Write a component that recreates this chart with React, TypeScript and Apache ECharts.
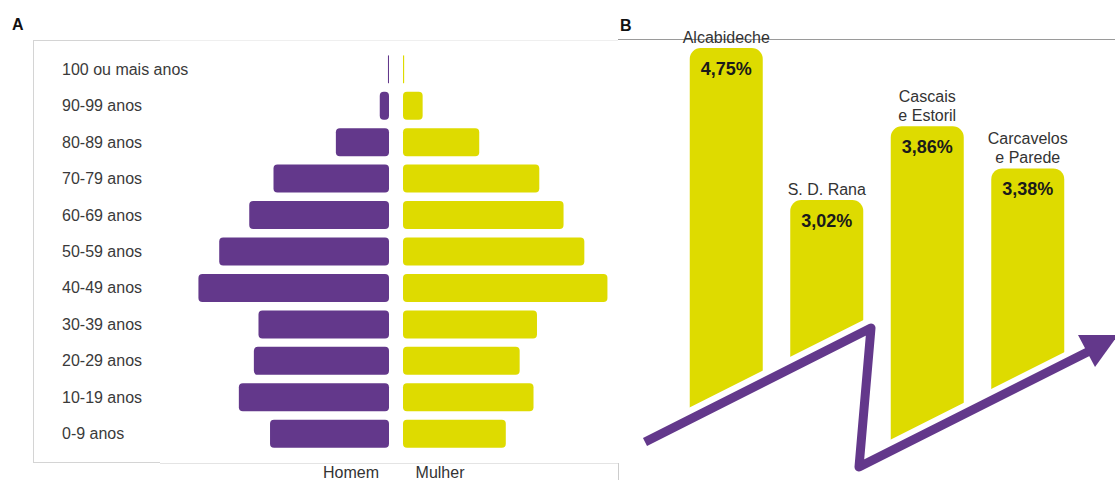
import React, { useEffect, useRef } from "react";
import * as echarts from "echarts";

// Panel A: age pyramid (thousands of residents)
const ageGroups = [
  "100 ou mais anos",
  "90-99 anos",
  "80-89 anos",
  "70-79 anos",
  "60-69 anos",
  "50-59 anos",
  "40-49 anos",
  "30-39 anos",
  "20-29 anos",
  "10-19 anos",
  "0-9 anos",
];
const men = [0.09, 0.8, 4.6, 10.0, 12.1, 14.7, 16.5, 11.3, 11.7, 13.0, 10.3];
const women = [0.1, 1.7, 6.6, 11.8, 13.9, 15.7, 17.7, 11.6, 10.1, 11.3, 8.9];
const sexLabels = ["Homem", "Mulher"];

// Panel B: parishes
const parishes = ["Alcabideche", "S. D. Rana", "Cascais\ne Estoril", "Carcavelos\ne Parede"];
const parishValues = [4.75, 3.02, 3.86, 3.38];

const PURPLE = "#63388B";
const YELLOW = "#DEDB00";
const FONT = "Liberation Sans, Arial, sans-serif";

export default function App() {
  const ref = useRef<HTMLDivElement>(null);

  useEffect(() => {
    if (!ref.current) return;
    const chart = echarts.init(ref.current, undefined, { renderer: "svg" });

    const option: any = {
      animation: false,
      backgroundColor: "#ffffff",
      grid: [
        { left: 158, width: 231, top: 51, height: 401 },
        { left: 403, width: 231, top: 51, height: 401 },
        { left: 676, width: 402, top: 26, height: 439.5 },
      ],
      xAxis: [
        { gridIndex: 0, type: "value", min: 0, max: 20, inverse: true, show: false },
        { gridIndex: 1, type: "value", min: 0, max: 20, show: false },
        { gridIndex: 2, type: "category", data: parishes, show: false },
      ],
      yAxis: [
        {
          gridIndex: 0,
          type: "category",
          data: ageGroups,
          inverse: true,
          axisLine: { show: false },
          axisTick: { show: false },
          splitLine: { show: false },
          axisLabel: {
            align: "left",
            margin: 96,
            fontSize: 16,
            color: "#3a3a3a",
            fontFamily: FONT,
          },
        },
        { gridIndex: 1, type: "category", data: ageGroups, inverse: true, show: false },
        { gridIndex: 2, type: "value", min: 0, max: 5, show: false },
      ],
      series: [
        {
          name: sexLabels[0],
          type: "bar",
          xAxisIndex: 0,
          yAxisIndex: 0,
          data: men,
          barWidth: 28,
          itemStyle: { color: PURPLE, borderRadius: 4 },
        },
        {
          name: sexLabels[1],
          type: "bar",
          xAxisIndex: 1,
          yAxisIndex: 1,
          data: women,
          barWidth: 28,
          itemStyle: { color: YELLOW, borderRadius: 4 },
        },
        {
          type: "bar",
          xAxisIndex: 2,
          yAxisIndex: 2,
          data: parishValues,
          barWidth: 73,
          barGap: "-100%",
          itemStyle: { color: YELLOW, borderRadius: [11, 11, 0, 0] },
          label: {
            show: true,
            position: "insideTop",
            distance: 12,
            fontSize: 18,
            fontWeight: "bold",
            color: "#1a1a1a",
            fontFamily: FONT,
            formatter: (p: any) => p.value.toFixed(2).replace(".", ",") + "%",
          },
        },
        {
          type: "bar",
          xAxisIndex: 2,
          yAxisIndex: 2,
          data: parishValues,
          barWidth: 73,
          barGap: "-100%",
          itemStyle: { color: "transparent" },
          label: {
            show: true,
            position: "top",
            distance: 1,
            fontSize: 16,
            lineHeight: 19,
            color: "#333333",
            fontFamily: FONT,
            formatter: (p: any) => p.name,
          },
        },
      ],
      graphic: [
        // frames
        { type: "line", shape: { x1: 33, y1: 40.5, x2: 160, y2: 40.5 }, style: { stroke: "#d4d4d4", lineWidth: 1 }, z: 50 },
        { type: "line", shape: { x1: 160, y1: 40.5, x2: 618, y2: 40.5 }, style: { stroke: "#efefef", lineWidth: 1 }, z: 50 },
        { type: "line", shape: { x1: 33.5, y1: 40, x2: 33.5, y2: 463 }, style: { stroke: "#d4d4d4", lineWidth: 1 }, z: 50 },
        { type: "line", shape: { x1: 33, y1: 462.5, x2: 160, y2: 462.5 }, style: { stroke: "#d4d4d4", lineWidth: 1 }, z: 50 },
        { type: "line", shape: { x1: 160, y1: 463.5, x2: 618, y2: 463.5 }, style: { stroke: "#e4e4e4", lineWidth: 1 }, z: 50 },
        { type: "line", shape: { x1: 618.5, y1: 463, x2: 618.5, y2: 480 }, style: { stroke: "#cccccc", lineWidth: 1 }, z: 50 },
        { type: "line", shape: { x1: 618, y1: 39.5, x2: 1115, y2: 39.5 }, style: { stroke: "#9a9a9a", lineWidth: 1 }, z: 1 },
        // panel letters
        { type: "text", x: 12, y: 16, style: { text: "A", font: "bold 16px " + FONT, fill: "#111" }, z: 50 },
        { type: "text", x: 620, y: 17, style: { text: "B", font: "bold 16px " + FONT, fill: "#111" }, z: 50 },
        // sex labels
        {
          type: "text", x: 351, y: 472,
          style: { text: sexLabels[0], font: "16px " + FONT, fill: "#333", align: "center", verticalAlign: "middle" }, z: 50,
        },
        {
          type: "text", x: 440, y: 472,
          style: { text: sexLabels[1], font: "16px " + FONT, fill: "#333", align: "center", verticalAlign: "middle" }, z: 50,
        },
        // mask below the zigzag arrow
        {
          type: "polygon",
          shape: {
            points: [
              [622, 441.5],
              [875, 314.3],
              [875, 447.5],
              [1115, 326.8],
              [1115, 480],
              [622, 480],
            ],
          },
          style: { fill: "#ffffff" },
          z: 60,
        },
        // arrow
        {
          type: "polyline",
          shape: { points: [[645, 442], [871, 328], [859, 467], [1090, 350.8]] },
          style: { stroke: PURPLE, lineWidth: 9, fill: null, lineJoin: "round", lineCap: "butt" },
          z: 70,
        },
        {
          type: "polygon",
          shape: { points: [[1078, 335], [1118, 335], [1095, 367]] },
          style: { fill: PURPLE },
          z: 70,
        },
      ],
    };

    chart.setOption(option);
    return () => chart.dispose();
  }, []);

  return (
    <div
      ref={ref}
      style={{ position: "absolute", left: 0, top: 0, width: 1115, height: 480 }}
    />
  );
}
